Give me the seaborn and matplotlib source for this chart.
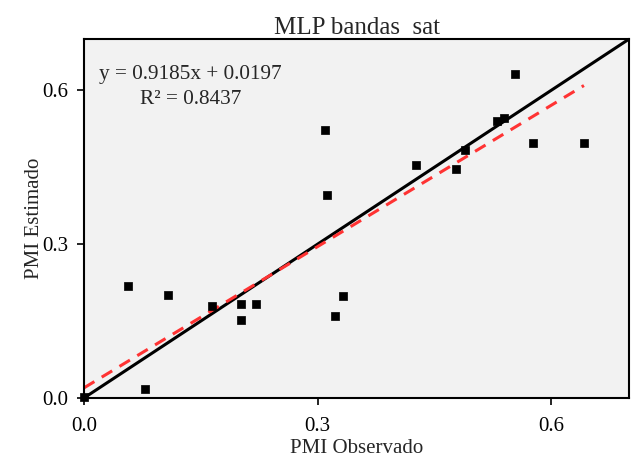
import numpy as np
import pandas as pd
import matplotlib
matplotlib.use("Agg")
import matplotlib.pyplot as plt
import seaborn as sns

# Data
pmi_observado = [0.000, 0.056, 0.079, 0.108, 0.165, 0.202, 0.202, 0.221, 0.309, 0.312,
                 0.322, 0.333, 0.426, 0.478, 0.489, 0.531, 0.540, 0.554, 0.576, 0.642]
pmi_estimado = [0.002, 0.218, 0.018, 0.200, 0.179, 0.183, 0.152, 0.183, 0.522, 0.395,
                0.160, 0.199, 0.454, 0.446, 0.483, 0.540, 0.546, 0.632, 0.497, 0.497]
slope = 0.9185
intercept = 0.0197
r2 = 0.8437
title = "MLP bandas  sat"
ticks = [0.0, 0.3, 0.6]
tick_labels = ["0.0", "0.3", "0.6"]

sns.set_style("ticks")
plt.rcParams['font.family'] = ['Liberation Serif', 'DejaVu Serif']

fig = plt.figure(figsize=(6.31, 4.62), dpi=100)
ax = fig.add_axes([0.133, 0.1385, 0.864, 0.777])
ax.set_facecolor("#f2f2f2")

df = pd.DataFrame({"obs": pmi_observado, "est": pmi_estimado})

# 1:1 line
one = pd.DataFrame({"x": [0.0, 0.7], "y": [0.0, 0.7]})
sns.lineplot(data=one, x="x", y="y", color="black", linewidth=2.2, ax=ax)

# regression line
xr = np.array([min(pmi_observado), max(pmi_observado)])
reg = pd.DataFrame({"x": xr, "y": slope * xr + intercept})
sns.lineplot(data=reg, x="x", y="y", color="#ff3333", linewidth=2.2, ax=ax,
             linestyle=(0, (4, 2.8)))

sns.scatterplot(data=df, x="obs", y="est", marker="s", s=40, color="black",
                edgecolor="black", ax=ax, zorder=5, clip_on=False)

ax.set_xlim(0, 0.7)
ax.set_ylim(0, 0.7)
ax.set_xticks(ticks)
ax.set_xticklabels(tick_labels)
ax.set_yticks(ticks)
ax.set_yticklabels(tick_labels)
ax.tick_params(axis="both", labelsize=15, colors="black", length=5, width=1.2, direction="out")
ax.tick_params(axis="x", pad=9)
ax.tick_params(axis="y", pad=6)
for s in ax.spines.values():
    s.set_visible(True)
    s.set_linewidth(1.5)
    s.set_color("black")

ax.set_xlabel("PMI Observado", fontsize=15, labelpad=2)
ax.set_ylabel("PMI Estimado", fontsize=15, labelpad=-1)
ax.set_title(title, fontsize=18, pad=0)

ax.text(0.019, 0.630, f"y = {slope}x + {intercept}", fontsize=15.3, ha="left", va="center")
ax.text(0.1365, 0.583, f"R² = {r2}", fontsize=15.3, ha="center", va="center")

fig.savefig("out.png", dpi=100, facecolor="white")
